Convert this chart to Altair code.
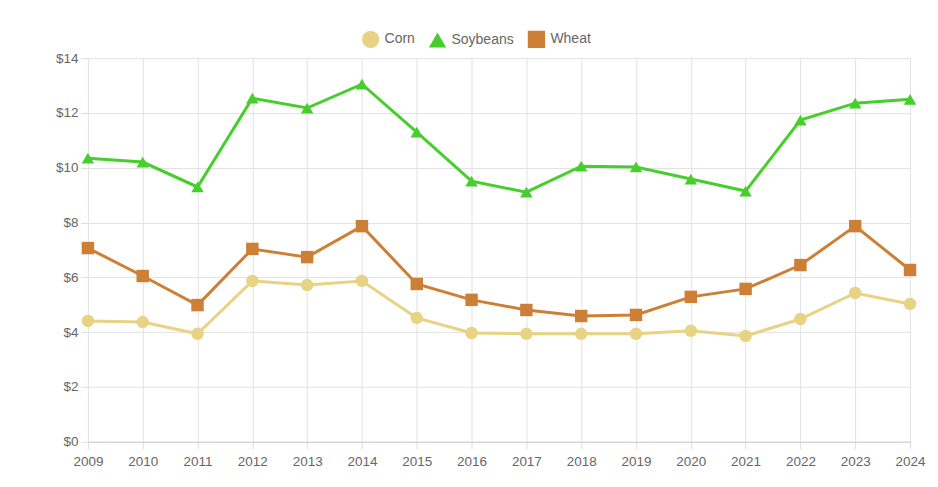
import altair as alt
import pandas as pd

years = list(range(2009, 2025))
corn = [4.41, 4.37, 3.94, 5.87, 5.72, 5.87, 4.52, 3.97, 3.94, 3.94, 3.94, 4.05, 3.86, 4.48, 5.43, 5.03]
soybeans = [10.35, 10.21, 9.30, 12.54, 12.18, 13.05, 11.30, 9.51, 9.11, 10.06, 10.03, 9.59, 9.15, 11.74, 12.36, 12.50]
wheat = [7.07, 6.05, 4.99, 7.04, 6.74, 7.87, 5.76, 5.18, 4.81, 4.59, 4.63, 5.29, 5.58, 6.45, 7.87, 6.27]

series_names = ["Corn", "Soybeans", "Wheat"]
series_colors = ["#e8d284", "#46cf2c", "#cd7f36"]
series_shapes = ["circle", "triangle-up", "square"]

rows = []
for name, vals in zip(series_names, [corn, soybeans, wheat]):
    for y, v in zip(years, vals):
        rows.append({"year": y, "price": v, "crop": name})
df = pd.DataFrame(rows)

color_scale = alt.Scale(domain=series_names, range=series_colors)
shape_scale = alt.Scale(domain=series_names, range=series_shapes)

x_enc = alt.X("year:Q", scale=alt.Scale(domain=[2009, 2024], nice=False, zero=False),
              axis=alt.Axis(values=years, format="d", title=None, tickSize=7,
                            labelPadding=6, grid=True, labelFlush=False, labelOverlap=False))
y_enc = alt.Y("price:Q", scale=alt.Scale(domain=[0, 14], nice=False),
              axis=alt.Axis(values=[0, 2, 4, 6, 8, 10, 12, 14], labelExpr="'$' + datum.value",
                            title=None, tickSize=7, labelPadding=3, grid=True, domain=False))

layers = []
for name, col in zip(series_names, series_colors):
    layers.append(
        alt.Chart(df).transform_filter(alt.datum.crop == name).mark_line(
            strokeWidth=3, color=col
        ).encode(x=x_enc, y=y_enc)
    )

leg = alt.Legend(title=None, orient="none", direction="horizontal",
                 legendX=274, legendY=-28)
points = alt.Chart(df).mark_point(filled=True, opacity=1, size=155).encode(
    x=x_enc, y=y_enc,
    color=alt.Color("crop:N", scale=color_scale, legend=leg),
    shape=alt.Shape("crop:N", scale=shape_scale, legend=leg),
)
layers.append(points)

chart = alt.layer(*layers).properties(
    width=823, height=384,
    autosize=alt.AutoSizeParams(type="none"),
    padding={"left": 80, "top": 50, "right": 20, "bottom": 30},
).configure_view(stroke=None).configure_axis(
    labelFont="Liberation Sans", labelFontSize=13.5, labelColor="#666666",
    gridColor="#e2e2e2", tickColor="#dddddd", domainColor="#cccccc",
).configure_legend(
    labelFont="Liberation Sans", labelFontSize=14, labelColor="#666666",
    symbolSize=300, symbolOpacity=1, symbolStrokeWidth=0, columnPadding=13, labelOffset=5,
)

chart.save("out.html", embed_options={"renderer": "svg", "actions": False})
